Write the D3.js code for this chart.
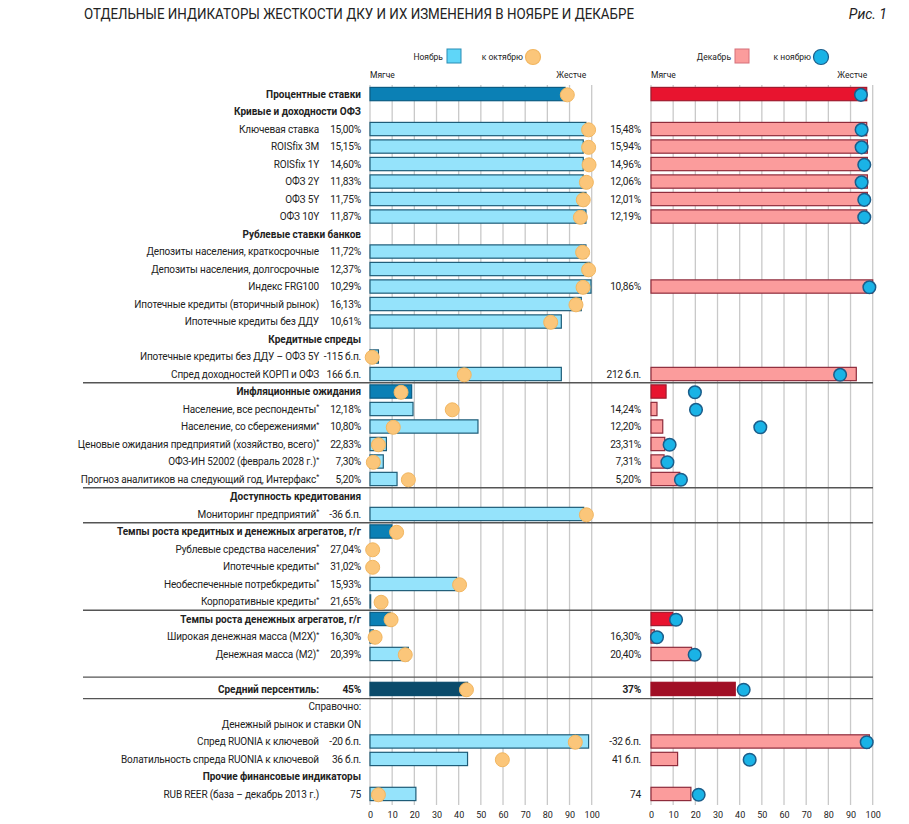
<!DOCTYPE html>
<html><head><meta charset="utf-8">
<script src="https://cdn.jsdelivr.net/npm/d3@7"></script>
<style>body{margin:0;background:#fff} text{font-family:Roboto, "Noto Sans", sans-serif;fill:#222}</style>
</head><body><svg id="c" width="909" height="824"></svg>
<script>
// ---------------- DATA ----------------
const rowLabels = [
 "Процентные ставки","Кривые и доходности ОФЗ","Ключевая ставка","ROISfix 3M","ROISfix 1Y","ОФЗ 2Y","ОФЗ 5Y","ОФЗ 10Y",
 "Рублевые ставки банков","Депозиты населения, краткосрочные","Депозиты населения, долгосрочные","Индекс FRG100",
 "Ипотечные кредиты (вторичный рынок)","Ипотечные кредиты без ДДУ","Кредитные спреды","Ипотечные кредиты без ДДУ – ОФЗ 5Y",
 "Спред доходностей КОРП и ОФЗ","Инфляционные ожидания","Население, все респонденты","Население, со сбережениями",
 "Ценовые ожидания предприятий (хозяйство, всего)","ОФЗ-ИН 52002 (февраль 2028 г.)","Прогноз аналитиков на следующий год, Интерфакс",
 "Доступность кредитования","Мониторинг предприятий","Темпы роста кредитных и денежных агрегатов, г/г","Рублевые средства населения",
 "Ипотечные кредиты","Необеспеченные потребкредиты","Корпоративные кредиты","Темпы роста денежных агрегатов, г/г",
 "Широкая денежная масса (M2X)","Денежная масса (M2)","","Средний персентиль:","Справочно:","Денежный рынок и ставки ON",
 "Спред RUONIA к ключевой","Волатильность спреда RUONIA к ключевой","Прочие финансовые индикаторы","RUB REER (база – декабрь 2013 г.)"
];
const rowTypes = [
 "sec","sub","item","item","item","item","item","item",
 "sub","item","item","item","item","item","sub","item",
 "item","sec","item","item","item","item","item",
 "sub","item","sec","item","item","item","item","sec",
 "item","item","blank","avg","note","note",
 "item","item","sub","item"
];
const starredRows = [18,19,20,21,22,24,26,27,28,29,31,32];
const novText = [
 "","","15,00%","15,15%","14,60%","11,83%","11,75%","11,87%",
 "","11,72%","12,37%","10,29%","16,13%","10,61%","","-115 б.п.",
 "166 б.п.","","12,18%","10,80%","22,83%","7,30%","5,20%",
 "","-36 б.п.","","27,04%","31,02%","15,93%","21,65%","",
 "16,30%","20,39%","","45%","","",
 "-20 б.п.","36 б.п.","","75"
];
const decText = [
 "","","15,48%","15,94%","14,96%","12,06%","12,01%","12,19%",
 "","","","10,86%","","","","",
 "212 б.п.","","14,24%","12,20%","23,31%","7,31%","5,20%",
 "","","","","","","","",
 "16,30%","20,40%","","37%","","",
 "-32 б.п.","41 б.п.","","74"
];
// Ноябрь (percentile bars) and к октябрю (dots)
const novBars = [88,null,97.4,96.2,96.2,96.2,97.4,97.4, null,97.4,99.2,99.7,95.3,86.3,null,3.8, 86.3,18.8,19.4,48.7,7.4,6.0,12.2, null,96.4,9.9,0,0,39.1,0.3,9.2, 1.5,17.3,null,44,null,null, 98.6,44,null,20.7];
const octDots = [89,null,98.6,98.6,98.8,97.6,96.2,94.9, null,95.9,98.6,96.1,92.9,81.5,null,1.0, 42.5,14,37.1,10.5,3.8,1.5,17.3, null,97.6,12,1.2,1.2,40.4,5,9.5, 2.3,15.9,null,43.5,null,null, 92.6,59.7,null,3.8];
// Декабрь (bars) and к ноябрю (dots)
const decBars = [97.3,null,97.3,97.6,97.6,97.6,97.6,97.3, null,null,null,100,null,null,null,null, 92.6,6.8,2.7,5.3,6.2,5.9,13, null,null,null,null,null,null,null,9.8, 1.5,18.3,null,38,null,null, 98.5,12,null,18];
const novDots = [94.7,null,95,95,96.2,95,96.2,96.2, null,null,null,98.5,null,null,null,null, 85.3,19.8,20.3,49.3,8.4,7.4,13.5, null,null,null,null,null,null,null,11.3, 2.7,19.7,null,41.8,null,null, 97.3,44.5,null,21.5];
const tickValues = [0,10,20,30,40,50,60,70,80,90,100];
const separatorsAfter = [16,22,24,29,33,34];
const legendLeft = ["Ноябрь","к октябрю"];
const legendRight = ["Декабрь","к ноябрю"];
const titleText = "ОТДЕЛЬНЫЕ ИНДИКАТОРЫ ЖЕСТКОСТИ ДКУ И ИХ ИЗМЕНЕНИЯ В НОЯБРЕ И ДЕКАБРЕ";

// ---------------- LAYOUT ----------------
const svg = d3.select("#c");
const n = rowLabels.length;
const y = d3.scaleBand().domain(d3.range(n)).range([83.2, 804.8]).padding(0.24);
const cy = i => y(i) + y.bandwidth()/2;
const xL = d3.scaleLinear().domain([0,100]).range([370, 591.7]);
const xR = d3.scaleLinear().domain([0,100]).range([651, 872.7]);
const gridTop = 85, gridBottom = 805;

const C = {
  secL:"#0b80b5", secLs:"#0a5c84", itemL:"#95e3fb", itemLs:"#1e5c78", avgL:"#0b4b6b",
  secR:"#e8142f", secRs:"#a01a2e", itemR:"#fb9c9c", itemRs:"#8e2b3b", avgR:"#a10f25",
  dotO:"#fbc67a", dotOs:"#f2b660", dotB:"#1ab3e6", dotBs:"#1b5d8a"
};

// title
svg.append("text").attr("x",84).attr("y",19).attr("font-size",14.5)
  .attr("textLength",550).attr("lengthAdjust","spacingAndGlyphs").text(titleText);
svg.append("text").attr("x",887).attr("y",19).attr("text-anchor","end").attr("font-size",14)
  .attr("font-style","italic").text("Рис. 1");

// gridlines
[xL,xR].forEach(x=>{
  svg.append("g").selectAll("line").data(tickValues).join("line")
    .attr("x1",d=>x(d)).attr("x2",d=>x(d)).attr("y1",gridTop).attr("y2",gridBottom)
    .attr("stroke","#c9c9c9").attr("stroke-width",1.3);
});

// separators
svg.append("g").selectAll("line").data(separatorsAfter).join("line")
  .attr("x1",83).attr("x2",873)
  .attr("y1",d=> (cy(d)+cy(d+1))/2 - (d===33?3:0) + (d===34?1:0))
  .attr("y2",d=> (cy(d)+cy(d+1))/2 - (d===33?3:0) + (d===34?1:0))
  .attr("stroke","#555").attr("stroke-width",1.3);

// Soft/Hard labels
[xL,xR].forEach(x=>{
  svg.append("text").attr("x",x(0)).attr("y",78).attr("font-size",8.5).text("Мягче");
  svg.append("text").attr("x",x(97.5)).attr("y",78).attr("font-size",8.5).attr("text-anchor","end").text("Жестче");
});

// legend
function legend(x0, labels, sqFill, sqStroke, dotFill, dotStroke){
  svg.append("text").attr("x",x0).attr("y",60).attr("font-size",8.5).attr("text-anchor","end").text(labels[0]);
  svg.append("rect").attr("x",x0+4).attr("y",49).attr("width",14).attr("height",14)
    .attr("fill",sqFill).attr("stroke",sqStroke).attr("stroke-width",1);
  svg.append("text").attr("x",x0+80).attr("y",60).attr("font-size",8.5).attr("text-anchor","end").text(labels[1]);
  svg.append("circle").attr("cx",x0+90).attr("cy",57).attr("r",7.5)
    .attr("fill",dotFill).attr("stroke",dotStroke).attr("stroke-width",1.2);
}
legend(443, legendLeft, "#5fd6f8", "#2a8db5", C.dotO, C.dotOs);
legend(731, legendRight, "#fb9c9c", "#d6707a", C.dotB, C.dotBs);

// bars
function barsFor(x, vals, isLeft){
  const rows = d3.range(n).filter(i=>vals[i]!=null);
  svg.append("g").selectAll("rect").data(rows).join("rect")
    .attr("x",x(0)).attr("y",i=>y(i)).attr("height",y.bandwidth())
    .attr("width",i=>Math.max(0,x(vals[i])-x(0)))
    .attr("fill",i=>{
      const t=rowTypes[i];
      if(isLeft) return t==="sec"?C.secL:t==="avg"?C.avgL:C.itemL;
      return t==="sec"?C.secR:t==="avg"?C.avgR:C.itemR;
    })
    .attr("stroke",i=>{
      const t=rowTypes[i];
      if(isLeft) return t==="avg"?C.avgL:t==="sec"?C.secLs:C.itemLs;
      return t==="avg"?C.avgR:t==="sec"?C.secRs:C.itemRs;
    })
    .attr("stroke-width",1.2);
}
barsFor(xL, novBars, true);
barsFor(xR, decBars, false);

// dots
function dotsFor(x, vals, fill, stroke, r, sw){
  const rows = d3.range(n).filter(i=>vals[i]!=null);
  svg.append("g").selectAll("circle").data(rows).join("circle")
    .attr("cx",i=>x(vals[i])).attr("cy",i=>cy(i)+0.8).attr("r",r)
    .attr("fill",fill).attr("stroke",stroke).attr("stroke-width",sw);
}
dotsFor(xL, octDots, C.dotO, C.dotOs, 7, 1);
dotsFor(xR, novDots, C.dotB, C.dotBs, 6.3, 1.5);

// row labels
const lab = svg.append("g");
d3.range(n).forEach(i=>{
  const t = rowTypes[i];
  if(t==="blank") return;
  const bold = (t==="sec"||t==="sub"||t==="avg");
  const xpos = (t==="item"||t==="avg") ? 319 : 361;
  const tx = lab.append("text").attr("x",xpos).attr("y",cy(i)).attr("dy","0.36em")
    .attr("font-size",10).attr("letter-spacing",bold?"0":"-0.15")
    .attr("text-anchor","end").attr("font-weight",bold?"bold":"normal").text(rowLabels[i]);
  if(starredRows.includes(i)){
    tx.append("tspan").attr("font-size",7).attr("dy","-0.45em").text("*");
  }
  if(novText[i]) lab.append("text").attr("x",361).attr("y",cy(i)).attr("dy","0.36em").attr("font-size",10.2)
    .attr("letter-spacing","-0.25")
    .attr("text-anchor","end").attr("font-weight",t==="avg"?"bold":"normal").text(novText[i]);
  if(decText[i]) lab.append("text").attr("x",641).attr("y",cy(i)).attr("dy","0.36em").attr("font-size",10.2)
    .attr("letter-spacing","-0.25")
    .attr("text-anchor","end").attr("font-weight",t==="avg"?"bold":"normal").text(decText[i]);
});

// axes
[xL,xR].forEach(x=>{
  const g = svg.append("g").attr("transform",`translate(0,${gridBottom+3})`)
    .call(d3.axisBottom(x).tickValues(tickValues).tickSize(0).tickPadding(4));
  g.select(".domain").remove();
  g.selectAll("text").attr("font-size",9).attr("fill","#222").attr("font-family","Roboto, sans-serif");
});
</script></body></html>
